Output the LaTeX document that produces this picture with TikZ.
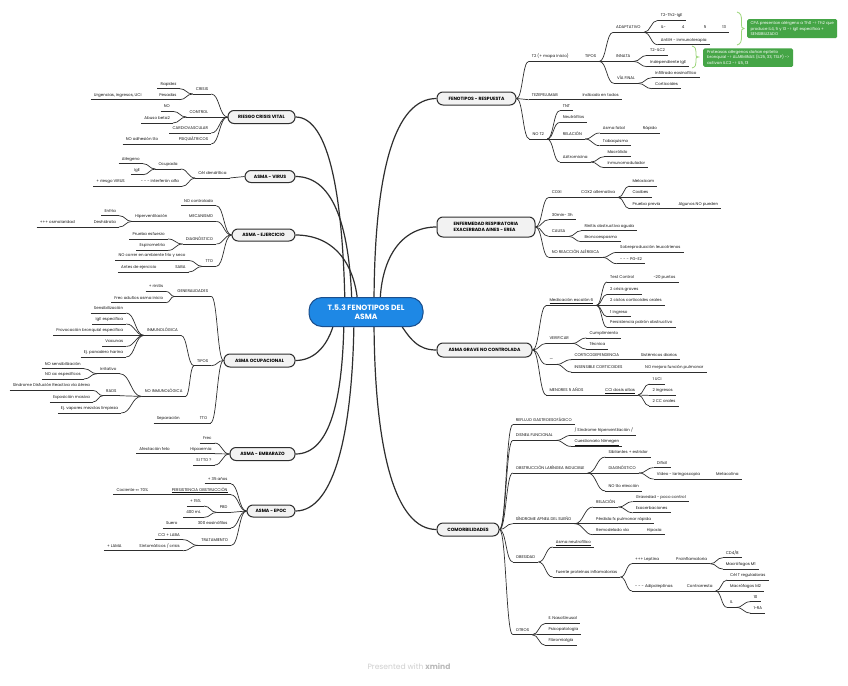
\documentclass[tikz,border=0pt]{standalone}
\usepackage{fontspec}
\setmainfont{Poppins}
\usetikzlibrary{calc}
\pgfdeclarelayer{bg}
\pgfsetlayers{bg,main}
\definecolor{rootblue}{HTML}{1E88E5}
\definecolor{rootedge}{HTML}{1A4E8C}
\definecolor{gboxc}{HTML}{45A546}
\definecolor{bracec}{HTML}{9CD67A}
\definecolor{linec}{HTML}{2E2E2E}
\tikzset{
 st/.style={font=\fontsize{4.0}{4.8}\selectfont, inner xsep=3pt, inner ysep=0pt, text height=3.1pt, text depth=0.9pt, minimum height=9pt, text=black!92},
 ln/.style={line width=0.7pt, draw=linec},
 ml/.style={line width=1.2pt, draw=linec},
 mt/.style={draw=linec, line width=1pt, fill=gray!10, rounded corners=6pt, font=\bfseries\fontsize{4.6}{6}\selectfont, minimum height=13pt, inner sep=0pt, align=left},
 gb/.style={fill=gboxc, rounded corners=1.5pt, text=white, font=\fontsize{4.0}{5.3}\selectfont, align=left, inner xsep=2.5pt, inner ysep=2pt, anchor=north west},
 brc/.style={draw=bracec, line width=0.8pt},
 xm/.style={to path={.. controls ($(\tikztostart)!0.5!(\tikztotarget|-\tikztostart)$) and ($(\tikztotarget)!0.5!(\tikztostart|-\tikztotarget)$) .. (\tikztotarget)}}
}
\newcommand\myR[4]{\node[st,anchor=west,xshift=-3pt] (#1) at (#2,#3) {#4}; \draw[ln] (#1.south west) -- (#1.south east);}
\newcommand\myL[4]{\node[st,anchor=east,xshift=3pt] (#1) at (#2,#3) {#4}; \draw[ln] (#1.south west) -- (#1.south east);}
\newcommand\cRm[2]{\foreach \cc in {#2} {\draw[ln] (#1.south east) to[xm] (\cc.south west);}}
\newcommand\cLm[2]{\foreach \cc in {#2} {\draw[ln] (#1.south west) to[xm] (\cc.south east);}}
\newcommand\bRm[2]{\foreach \cc in {#2} {\draw[ln] (#1.east) to[xm] (\cc.south west);}}
\newcommand\bLm[2]{\foreach \cc in {#2} {\draw[ln] (#1.west) to[xm] (\cc.south east);}}
\begin{document}
\begin{tikzpicture}[x=1pt,y=-1pt]
\useasboundingbox (0,0) rectangle (848,685);

% ---------- root ----------
\node[draw=rootedge, line width=1pt, fill=rootblue, rounded corners=13pt, minimum width=114pt, minimum height=29pt, text=white, font=\bfseries\fontsize{7.6}{9.2}\selectfont, align=center, inner sep=0pt] (root) at (366,312) {T.5.3 FENOTIPOS DEL\\ASMA};

% ---------- main topics ----------
\node[mt, minimum width=79pt] (F) at (476.5,98.5) {FENOTIPOS - RESPUESTA};
\node[mt, minimum width=98pt, minimum height=20pt] (E) at (486,227) {ENFERMEDAD RESPIRATORIA\\EXACERBADA AINES - EREA};
\node[mt, minimum width=95pt, minimum height=14pt] (G) at (484.5,350) {ASMA GRAVE NO CONTROLADA};
\node[mt, minimum width=62pt] (C) at (468,529.5) {COMORBILIDADES};
\node[mt, minimum width=67pt] (R) at (261.5,117) {RIESGO CRISIS VITAL};
\node[mt, minimum width=50pt, minimum height=12pt] (V) at (270,176.5) {ASMA - VIRUS};
\node[mt, minimum width=63pt, minimum height=12pt] (J) at (263.5,235) {ASMA - EJERCICIO};
\node[mt, minimum width=71pt] (O) at (259.5,360.5) {ASMA OCUPACIONAL};
\node[mt, minimum width=65pt] (M) at (262.5,454) {ASMA - EMBARAZO};
\node[mt, minimum width=48pt, minimum height=12pt] (P) at (271,511) {ASMA - EPOC};

% ---------- FENOTIPOS - RESPUESTA ----------
\myR{f1}{531.7}{56.7}{T2 (+ mapa inicio)}
\myR{f1a}{585}{56.7}{TIPOS}
\myR{fa}{616}{27.7}{ADAPTATIVO}
\myR{fa1}{660.7}{15.7}{T2-Th2-IgE}
\myR{fa2}{660.7}{27.7}{IL-\hspace{16pt}4\hspace{19.5pt}5\hspace{16pt}13}
\myR{fa3}{660.7}{40}{AntiIH - inmunoterapia}
\myR{fb}{616}{56.7}{INNATA}
\myR{fb1}{650}{50.7}{T2-ILC2}
\myR{fb2}{650}{62}{Independiente IgE}
\myR{fc}{617}{78.7}{VÍA FINAL}
\myR{fc1}{655}{73}{Infiltrado eosinofílico}
\myR{fc2}{655}{84}{Corticoides}
\myR{f2}{531.7}{95}{TEZEPELUMAB}
\myR{f2a}{582.3}{95}{Indicado en todos}
\myR{f3}{532.3}{134.3}{NO T2}
\myR{f3a}{562.7}{106}{TNT}
\myR{f3b}{562.7}{117.7}{Neutrófilos}
\myR{f3c}{562.7}{134.3}{RELACIÓN}
\myR{f3c1}{602.7}{128.3}{Asma fatal}
\myR{f3c1a}{642.7}{128.3}{Rápido}
\myR{f3c2}{602.7}{141}{Tabaquismo}
\myR{f3d}{562.7}{157.3}{Azitromicina}
\myR{f3d1}{607.3}{152}{Macrólido}
\myR{f3d2}{607.3}{163}{Inmunomodulador}

% green notes
\node[gb, minimum width=90pt, minimum height=19pt] (note1) at (747,19) {CPA presentan alérgeno a Th0 -> Th2 que\\produce IL4, 5 y 13 -> IgE específica +\\SENSIBILIZADO};
\node[gb, minimum width=90pt, minimum height=17.5pt] (note2) at (703,48.3) {Proteasas alérgenos dañan epitelio\\bronquial -> ALARMINAS (IL25, 33, TSLP) ->\\activan ILC2 -> IL5, 13};
\draw[brc] (737,12) .. controls (741,13) and (741.5,16) .. (741.5,21) -- (741.5,25) .. controls (741.5,27.5) .. (744,28.5) .. controls (741.5,29.5) .. (741.5,32) -- (741.5,36) .. controls (741.5,41) and (741,44) .. (737,45);
\draw[brc] (692,46) .. controls (695.5,47) and (696,49) .. (696,52) -- (696,55) .. controls (696,56.5) .. (698.5,57) .. controls (696,57.5) .. (696,59) -- (696,62) .. controls (696,65) and (695.5,67) .. (692,68);

% ---------- EREA ----------
\myR{e1}{551.7}{192.7}{COXI}
\myR{e1a}{581}{192.7}{COX2 alternativa}
\myR{e1a1}{632.3}{181.3}{Meloxicam}
\myR{e1a2}{632.3}{192.7}{Coxibes}
\myR{e1a3}{632.3}{204}{Prueba previa}
\myR{e1a3a}{678.3}{204}{Algunos NO pueden}
\myR{e2}{551.7}{215}{30min- 3h}
\myR{e3}{551.7}{231.7}{CAUSA}
\myR{e3a}{584.3}{226}{Rinitis obstructiva aguda}
\myR{e3b}{584.3}{237}{Broncoespasmo}
\myR{e4}{551.7}{252.7}{NO REACCIÓN ALÉRGICA}
\myR{e4a}{620}{247.7}{Sobreproducción leucotrienos}
\myR{e4b}{620}{259}{- - - PG-E2}

% ---------- ASMA GRAVE ----------
\myR{g1}{549.3}{300.7}{\underline{Medicación escalón 6}}
\myR{g1a}{610}{277.3}{Test Control}
\myR{g1a1}{653.3}{277.3}{-20 puntos}
\myR{g1b}{610}{289.7}{2 crisis graves}
\myR{g1c}{610}{300.7}{2 ciclos corticoides orales}
\myR{g1d}{610}{312}{1 ingreso}
\myR{g1e}{610}{322.7}{Persistencia patrón obstructivo}
\myR{g2}{549.3}{338.7}{VERIFICAR}
\myR{g2a}{589.3}{333.3}{Cumplimiento}
\myR{g2b}{589.3}{344.3}{Técnica}
\myR{g3}{549.3}{359.7}{---}
\myR{g3a}{574.3}{355}{CORTICODEPENDENCIA}
\myR{g3a1}{640.7}{355}{Sistémicos diarios}
\myR{g3b}{574.3}{367.3}{INSENSIBLE CORTICOIDES}
\myR{g3b1}{645}{367.3}{NO mejora función pulmonar}
\myR{g4}{549.3}{390.3}{MENORES 5 AÑOS}
\myR{g4a}{605}{390.3}{\underline{CCI dosis altas}}
\myR{g4a1}{652.3}{379.3}{1 UCI}
\myR{g4a2}{652.3}{390.7}{2 ingresos}
\myR{g4a3}{652.3}{401.3}{2 CC orales}

% ---------- COMORBILIDADES ----------
\myR{c1}{515.7}{420}{REFLUJO GASTROESOFÁGICO}
\myR{c2}{515.7}{435.7}{DISNEA FUNCIONAL}
\myR{c2a}{574.3}{430.7}{/ Síndrome hiperventilación /}
\myR{c2b}{574.3}{441.7}{\underline{Cuestionario Nimegen}}
\myR{c3}{515.7}{468.3}{OBSTRUCCIÓN LARÍNGEA INDUCIBLE}
\myR{c3a}{608.3}{452.3}{Sibilantes + estridor}
\myR{c3b}{608.3}{468.3}{DIAGNÓSTICO}
\myR{c3b1}{656.7}{463}{Difícil}
\myR{c3b2}{656.7}{474.3}{Vídeo - laringoscopia}
\myR{c3b2a}{716}{474.3}{Metacolina}
\myR{c3c}{608.3}{486.3}{NO tto elección}
\myR{c4}{515.7}{519}{SÍNDROME APNEA DEL SUEÑO}
\myR{c4a}{596}{502.3}{RELACIÓN}
\myR{c4a1}{635.7}{497}{Gravedad - poco control}
\myR{c4a2}{635.7}{508}{Exacerbaciones}
\myR{c4b}{596}{519}{Pérdida fx pulmonar rápida}
\myR{c4c}{596}{530}{Remodelado vía}
\myR{c4c1}{646.7}{530}{Hipoxia}
\myR{c5}{515.7}{557.3}{OBESIDAD}
\myR{c5a}{555.7}{542.3}{\underline{Asma neutrofílico}}
\myR{c5b}{555.7}{572.3}{Fuente proteínas inflamatorias}
\myR{c5b1}{635}{559}{+++ Leptina}
\myR{c5b1a}{676}{559}{Proinflamatoria}
\myR{c5b1a1}{725.7}{553}{CD4/8}
\myR{c5b1a2}{725.7}{564.3}{Macrófagos M1}
\myR{c5b2}{635}{586.3}{- - - Adipoleptinas}
\myR{c5b2a}{686.7}{586.3}{Contrarresta}
\myR{c5b2a1}{730}{575.3}{Cél T reguladoras}
\myR{c5b2a2}{730}{586.3}{Macrófagos M2}
\myR{c5b2a3}{730}{602.7}{IL}
\myR{c5b2a3a}{753.3}{597}{10}
\myR{c5b2a3b}{753.3}{608.3}{1-RA}
\myR{c6}{515.7}{630}{OTROS}
\myR{c6a}{548.3}{618.7}{E. NasoSinusal}
\myR{c6b}{548.3}{629.7}{Psicopatología}
\myR{c6c}{548.3}{640.7}{Fibromialgia}

% ---------- RIESGO CRISIS VITAL ----------
\myL{r1}{208.3}{89.3}{CRISIS}
\myL{r1a}{176.7}{84}{Rapidez}
\myL{r1b}{176.7}{95}{Pesadas}
\myL{r1b1}{141.7}{95}{Urgencias, ingresos, UCI}
\myL{r2}{208.3}{112.3}{CONTROL}
\myL{r2a}{170}{106.7}{NO}
\myL{r2b}{170}{118.3}{Abuso beta2}
\myL{r3}{208.3}{128.3}{CARDIOVASCULAR}
\myL{r4}{208.3}{139.3}{PSIQUIÁTRICOS}
\myL{r4a}{158.3}{139.3}{NO adhesión tto}

% ---------- ASMA - VIRUS ----------
\myL{v1}{226.7}{173.3}{Cél dendrítica}
\myL{v1a}{177.7}{164.3}{Ocupada}
\myL{v1a1}{140}{159}{Alérgeno}
\myL{v1a2}{140}{170}{IgE}
\myL{v1b}{179}{181.7}{- - - interferón alfa}
\myL{v1b1}{125}{181.7}{+ riesgo VIRUS}

% ---------- ASMA - EJERCICIO ----------
\myL{j1}{213.3}{201}{NO controlado}
\myL{j2}{213.3}{216.7}{MECANISMO}
\myL{j2a}{167.7}{216.7}{Hiperventilación}
\myL{j2a1}{116}{211}{Enfría}
\myL{j2a2}{116}{222.3}{Deshidrata}
\myL{j2a2a}{75}{222.3}{+++ osmolaridad}
\myL{j3}{213.3}{239.3}{DIAGNÓSTICO}
\myL{j3a}{165}{234.3}{Prueba esfuerzo}
\myL{j3b}{165}{245.7}{Espirometría}
\myL{j4}{213.3}{261.7}{TTO}
\myL{j4a}{185.7}{255.7}{NO correr en ambiente frío y seco}
\myL{j4b}{185.7}{267.3}{SABA}
\myL{j4b1}{156.7}{267.3}{Antes de ejercicio}

% ---------- ASMA OCUPACIONAL ----------
\myL{o1}{208.3}{291.7}{GENERALIDADES}
\myL{o1a}{163.3}{286.7}{+ rinitis}
\myL{o1b}{163.3}{298}{Frec adultos asma inicio}
\myL{o2}{208.3}{361}{TIPOS}
\myL{o2a}{178}{330.7}{INMUNOLÓGICA}
\myL{o2a1}{123.3}{308.3}{Sensibilización}
\myL{o2a2}{123.3}{319.3}{IgE específica}
\myL{o2a3}{123.3}{330.7}{Provocación bronquial específica}
\myL{o2a4}{123.3}{341.7}{Vacunas}
\myL{o2a5}{123.3}{352.3}{Ej. panadero harina}
\myL{o2b}{182.7}{391.7}{NO INMUNOLÓGICA}
\myL{o2b1}{116.7}{369}{Irritativo}
\myL{o2b1a}{81}{364}{NO sensibilización}
\myL{o2b1b}{81}{374.3}{NO ac específicos}
\myL{o2b2}{116.7}{391}{RADS}
\myL{o2b2a}{90}{385.7}{Síndrome Disfución Reactiva vía Aérea}
\myL{o2b2b}{90}{397.3}{Exposición masiva}
\myL{o2b3}{118.3}{408.3}{Ej. vapores mezclas limpieza}
\myL{o3}{207.5}{418.3}{TTO}
\myL{o3a}{180}{418.3}{Separación}

% ---------- ASMA - EMBARAZO ----------
\myL{m1}{211.7}{438.3}{Frec}
\myL{m2}{211.7}{449}{Hipoxemia}
\myL{m2a}{170}{449}{Afectación feto}
\myL{m3}{211.7}{460.3}{SI TTO ?}

% ---------- ASMA - EPOC ----------
\myL{p1}{227.7}{479}{+ 35 años}
\myL{p2}{227.7}{490}{\underline{PERSISTENCIA OBSTRUCCIÓN}}
\myL{p2a}{148.3}{490}{Cociente <<<< 70\%}
\myL{p3}{227.7}{507.7}{PBD}
\myL{p3a}{201}{501.3}{+ 15\%}
\myL{p3b}{201}{512.7}{400 mL}
\myL{p4}{227.7}{523.3}{300 eosinófilos}
\myL{p4a}{177.7}{523.3}{Suero}
\myL{p5}{228.3}{540.7}{TRATAMIENTO}
\myL{p5a}{180}{535}{CCI + LABA}
\myL{p5b}{180}{546}{Síntomáticos / crisis}
\myL{p5b1}{121.7}{546}{+ LAMA}

% ---------- footer ----------
\node[text=gray!38, font=\fontsize{7.6}{9}\selectfont, inner sep=0pt] (foot) at (409,666) {Presented with \textcolor{gray!55}{\textbf{xmind}}};

% ---------- connectors ----------
\bRm{F}{f1,f2,f3}
\cRm{f1}{f1a}
\cRm{f1a}{fa,fb,fc}
\cRm{fa}{fa1,fa2,fa3}
\cRm{fb}{fb1,fb2}
\cRm{fc}{fc1,fc2}
\cRm{f2}{f2a}
\cRm{f3}{f3a,f3b,f3c,f3d}
\cRm{f3c}{f3c1,f3c2}
\cRm{f3c1}{f3c1a}
\cRm{f3d}{f3d1,f3d2}
\bRm{E}{e1,e2,e3,e4}
\cRm{e1}{e1a}
\cRm{e1a}{e1a1,e1a2,e1a3}
\cRm{e1a3}{e1a3a}
\cRm{e3}{e3a,e3b}
\cRm{e4}{e4a,e4b}
\bRm{G}{g1,g2,g3,g4}
\cRm{g1}{g1a,g1b,g1c,g1d,g1e}
\cRm{g1a}{g1a1}
\cRm{g2}{g2a,g2b}
\cRm{g3}{g3a,g3b}
\cRm{g3a}{g3a1}
\cRm{g3b}{g3b1}
\cRm{g4}{g4a}
\cRm{g4a}{g4a1,g4a2,g4a3}
\bRm{C}{c1,c2,c3,c4,c5,c6}
\cRm{c2}{c2a,c2b}
\cRm{c3}{c3a,c3b,c3c}
\cRm{c3b}{c3b1,c3b2}
\cRm{c3b2}{c3b2a}
\cRm{c4}{c4a,c4b,c4c}
\cRm{c4a}{c4a1,c4a2}
\cRm{c4c}{c4c1}
\cRm{c5}{c5a,c5b}
\cRm{c5b}{c5b1,c5b2}
\cRm{c5b1}{c5b1a}
\cRm{c5b1a}{c5b1a1,c5b1a2}
\cRm{c5b2}{c5b2a}
\cRm{c5b2a}{c5b2a1,c5b2a2,c5b2a3}
\cRm{c5b2a3}{c5b2a3a,c5b2a3b}
\cRm{c6}{c6a,c6b,c6c}

\bLm{R}{r1,r2,r3,r4}
\cLm{r1}{r1a,r1b}
\cLm{r1b}{r1b1}
\cLm{r2}{r2a,r2b}
\cLm{r4}{r4a}
\bLm{V}{v1}
\cLm{v1}{v1a,v1b}
\cLm{v1a}{v1a1,v1a2}
\cLm{v1b}{v1b1}
\bLm{J}{j1,j2,j3,j4}
\cLm{j2}{j2a}
\cLm{j2a}{j2a1,j2a2}
\cLm{j2a2}{j2a2a}
\cLm{j3}{j3a,j3b}
\cLm{j4}{j4a,j4b}
\cLm{j4b}{j4b1}
\bLm{O}{o1,o2,o3}
\cLm{o1}{o1a,o1b}
\cLm{o2}{o2a,o2b}
\cLm{o2a}{o2a1,o2a2,o2a3,o2a4,o2a5}
\cLm{o2b}{o2b1,o2b2,o2b3}
\cLm{o2b1}{o2b1a,o2b1b}
\cLm{o2b2}{o2b2a,o2b2b}
\cLm{o3}{o3a}
\bLm{M}{m1,m2,m3}
\cLm{m2}{m2a}
\bLm{P}{p1,p2,p3,p4,p5}
\cLm{p2}{p2a}
\cLm{p3}{p3a,p3b}
\cLm{p4}{p4a}
\cLm{p5}{p5a,p5b}
\cLm{p5b}{p5b1}

\begin{pgfonlayer}{bg}
\fill[white] (0,0) rectangle (848,685);
\draw[ml] ($(root.center)+(-21,-5)$) .. controls (343,200) and (330,117) .. (R.east);
\draw[ml] ($(root.center)+(-14,-5)$) .. controls (350,230) and (335,176.5) .. (V.east);
\draw[ml] ($(root.center)+(-8,-5)$) .. controls (356,265) and (335,235) .. (J.east);
\draw[ml] ($(root.center)+(-30,3)$) .. controls (330,345) and (315,360.5) .. (O.east);
\draw[ml] ($(root.center)+(-22,5)$) .. controls (343,400) and (330,454) .. (M.east);
\draw[ml] ($(root.center)+(-12,5)$) .. controls (353,430) and (335,511) .. (P.east);
\draw[ml] ($(root.center)+(8,-5)$) .. controls (374,170) and (395,98.5) .. (F.west);
\draw[ml] ($(root.center)+(14,-5)$) .. controls (380,260) and (400,227) .. (E.west);
\draw[ml] ($(root.center)+(30,5)$) .. controls (410,340) and (418,350) .. (G.west);
\draw[ml] ($(root.center)+(8,5)$) .. controls (374,450) and (395,529.5) .. (C.west);
\end{pgfonlayer}
\end{tikzpicture}
\end{document}
